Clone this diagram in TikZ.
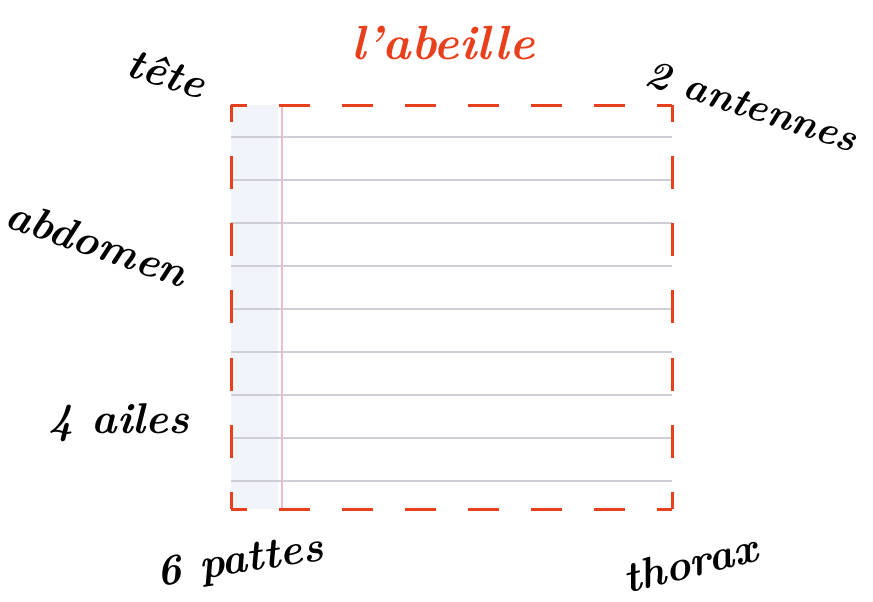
\documentclass[tikz,border=0pt]{standalone}
\begin{document}
\begin{tikzpicture}[x=1pt,y=-1pt,
  lbl/.style={font=\fontsize{43}{43}\selectfont\bfseries\itshape, text=black, inner sep=0pt},
  ruling/.style={draw=rulegrey, line width=1.8pt},
  frame/.style={draw=beered, line width=3pt}]
\definecolor{beered}{HTML}{E8401C}
\definecolor{rulegrey}{HTML}{CDCED6}
\definecolor{marginblue}{HTML}{F1F5FB}
\definecolor{marginpink}{HTML}{E8BDCF}
\useasboundingbox (0,0) rectangle (873,602);
\fill[white] (0,0) rectangle (873,602);
% paper
\fill[marginblue] (231,105) rectangle (278,509);
\foreach \yy in {137,180,223,266,309,352,395,438,481}
  \draw[ruling] (231,\yy) -- (672,\yy);
\draw[marginpink, line width=1.5pt] (282,105) -- (282,509);
% dashed frame
\coordinate (tl) at (231,105);
\coordinate (tr) at (672,105);
\coordinate (br) at (672,509);
\coordinate (bl) at (231,509);
\draw[frame, dash pattern=on 31pt off 32pt, dash phase=15.5pt] (tl) -- (tr);
\draw[frame, dash pattern=on 31pt off 32pt, dash phase=15.5pt] (bl) -- (br);
\draw[frame, dash pattern=on 33pt off 34.3pt, dash phase=16.5pt] (tl) -- (bl);
\draw[frame, dash pattern=on 33pt off 34.3pt, dash phase=16.5pt] (tr) -- (br);
% title
\node[lbl, text=beered, font=\fontsize{48}{48}\selectfont\bfseries\itshape] (title) at (443,43) {l'abeille};
% labels
\node[lbl, rotate=-17] (tete) at (167,73) {tête};
\node[lbl, rotate=-18, font=\fontsize{40}{40}\selectfont\bfseries\itshape] (antennes) at (752,106) {2 antennes};
\node[lbl, rotate=-19] (abdomen) at (97,243) {abdomen};
\node[lbl] (ailes) at (119,423) {4 ailes};
\node[lbl, rotate=9] (pattes) at (240,563) {6 pattes};
\node[lbl, rotate=14] (thorax) at (690,563) {thorax};
\end{tikzpicture}
\end{document}
